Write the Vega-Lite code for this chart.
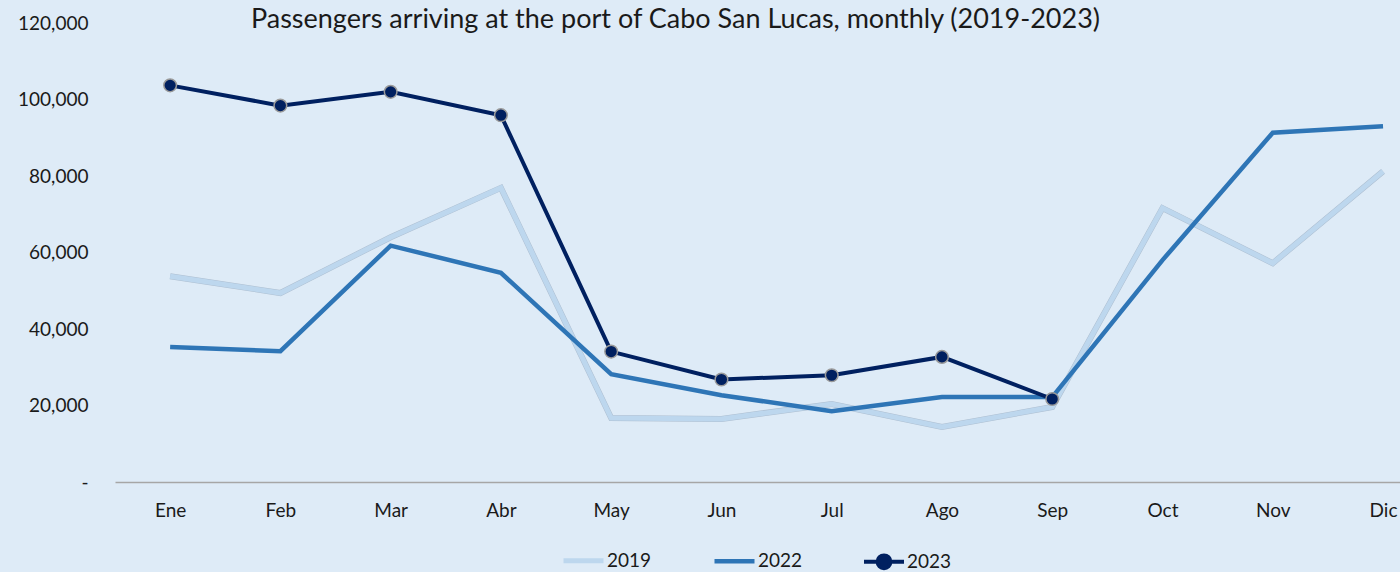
{
  "$schema": "https://vega.github.io/schema/vega-lite/v6.json",
  "autosize": {"type": "none"},
  "width": 1285,
  "height": 459,
  "padding": {"left": 115, "top": 23, "right": 0, "bottom": 90},
  "background": "#deebf7",
  "config": {
    "view": {"stroke": null},
    "font": "Lato",
    "axis": {"labelFont": "Lato", "labelFontSize": 19, "labelColor": "#1a1a1a", "grid": false, "ticks": false, "title": null},
    "legend": {"labelFont": "Lato", "labelFontSize": 19, "labelColor": "#1a1a1a"}
  },
  "title": {
    "text": "Passengers arriving at the port of Cabo San Lucas, monthly (2019-2023)",
    "font": "Lato",
    "fontSize": 27,
    "fontWeight": "normal",
    "color": "#1a1a1a",
    "anchor": "middle",
    "frame": "group",
    "baseline": "alphabetic",
    "offset": -41,
    "dx": -82
  },
  "data": {
    "values": [
      {"month": 1, "mes": "Ene", "year": "2019", "value": 53800},
      {"month": 2, "mes": "Feb", "year": "2019", "value": 49400},
      {"month": 3, "mes": "Mar", "year": "2019", "value": 64000},
      {"month": 4, "mes": "Abr", "year": "2019", "value": 76900},
      {"month": 5, "mes": "May", "year": "2019", "value": 16700},
      {"month": 6, "mes": "Jun", "year": "2019", "value": 16500},
      {"month": 7, "mes": "Jul", "year": "2019", "value": 20400},
      {"month": 8, "mes": "Ago", "year": "2019", "value": 14400},
      {"month": 9, "mes": "Sep", "year": "2019", "value": 19600},
      {"month": 10, "mes": "Oct", "year": "2019", "value": 71600},
      {"month": 11, "mes": "Nov", "year": "2019", "value": 57200},
      {"month": 12, "mes": "Dic", "year": "2019", "value": 81200},
      {"month": 1, "mes": "Ene", "year": "2022", "value": 35300},
      {"month": 2, "mes": "Feb", "year": "2022", "value": 34200},
      {"month": 3, "mes": "Mar", "year": "2022", "value": 61800},
      {"month": 4, "mes": "Abr", "year": "2022", "value": 54700},
      {"month": 5, "mes": "May", "year": "2022", "value": 28200},
      {"month": 6, "mes": "Jun", "year": "2022", "value": 22700},
      {"month": 7, "mes": "Jul", "year": "2022", "value": 18500},
      {"month": 8, "mes": "Ago", "year": "2022", "value": 22200},
      {"month": 9, "mes": "Sep", "year": "2022", "value": 22200},
      {"month": 10, "mes": "Oct", "year": "2022", "value": 58000},
      {"month": 11, "mes": "Nov", "year": "2022", "value": 91300},
      {"month": 12, "mes": "Dic", "year": "2022", "value": 93000},
      {"month": 1, "mes": "Ene", "year": "2023", "value": 103700},
      {"month": 2, "mes": "Feb", "year": "2023", "value": 98400},
      {"month": 3, "mes": "Mar", "year": "2023", "value": 102000},
      {"month": 4, "mes": "Abr", "year": "2023", "value": 95900},
      {"month": 5, "mes": "May", "year": "2023", "value": 34100},
      {"month": 6, "mes": "Jun", "year": "2023", "value": 26800},
      {"month": 7, "mes": "Jul", "year": "2023", "value": 27900},
      {"month": 8, "mes": "Ago", "year": "2023", "value": 32700},
      {"month": 9, "mes": "Sep", "year": "2023", "value": 21700}
    ]
  },
  "encoding": {
    "x": {
      "field": "month",
      "type": "quantitative",
      "scale": {"domain": [0.5, 12.154], "nice": false, "zero": false},
      "axis": {
        "values": [1, 2, 3, 4, 5, 6, 7, 8, 9, 10, 11, 12],
        "labelExpr": "['Ene','Feb','Mar','Abr','May','Jun','Jul','Ago','Sep','Oct','Nov','Dic'][datum.value - 1]",
        "domainColor": "#a6a6a6",
        "domainWidth": 1.5,
        "labelPadding": 19,
        "labelFlush": false,
        "labelOverlap": false
      }
    },
    "y": {
      "field": "value",
      "type": "quantitative",
      "scale": {"domain": [0, 120000], "nice": false},
      "axis": {
        "values": [0, 20000, 40000, 60000, 80000, 100000, 120000],
        "format": ",.0f",
        "labelExpr": "datum.value === 0 ? '-\u00a0\u00a0\u00a0' : datum.label",
        "domain": false,
        "labelPadding": 27
      }
    }
  },
  "layer": [
    {
      "transform": [{"filter": "datum.year === '2019'"}],
      "mark": {"type": "line", "stroke": "#aebfd1", "strokeWidth": 6, "strokeJoin": "miter"},
      "encoding": {}
    },
    {
      "mark": {"type": "line", "strokeJoin": "miter"},
      "encoding": {
        "color": {
          "field": "year",
          "type": "nominal",
          "scale": {"domain": ["2019", "2022", "2023"], "range": ["#bdd7ee", "#2e75b6", "#002060"]},
          "legend": {
            "title": null,
            "orient": "none",
            "legendX": 446,
            "legendY": 515,
            "direction": "horizontal",
            "symbolSize": 1600,
            "symbolType": "stroke",
            "symbolStrokeWidth": 4,
            "labelOffset": 1,
            "columnPadding": 53,
            "encode": {
              "symbols": {
                "update": {
                  "shape": {"signal": "datum.label === '2023' ? 'M-1,0H1M0.32,0A0.32,0.32,0,1,1,-0.32,0A0.32,0.32,0,1,1,0.32,0' : 'M-1,0H1M0,-0.34L0,-0.34M0,0.34L0,0.34'"},
                  "fill": {"signal": "datum.label === '2023' ? '#002060' : 'transparent'"},
                  "strokeWidth": {"signal": "datum.label === '2019' ? 5 : 4"}
                }
              }
            }
          }
        },
        "strokeWidth": {
          "field": "year",
          "type": "nominal",
          "scale": {"domain": ["2019", "2022", "2023"], "range": [5, 4, 4]},
          "legend": null
        }
      }
    },
    {
      "transform": [{"filter": "datum.year === '2023'"}],
      "mark": {"type": "point", "filled": true, "fill": "#002060", "stroke": "#9a9a9a", "strokeWidth": 1.5, "size": 160, "opacity": 1},
      "encoding": {}
    }
  ]
}
